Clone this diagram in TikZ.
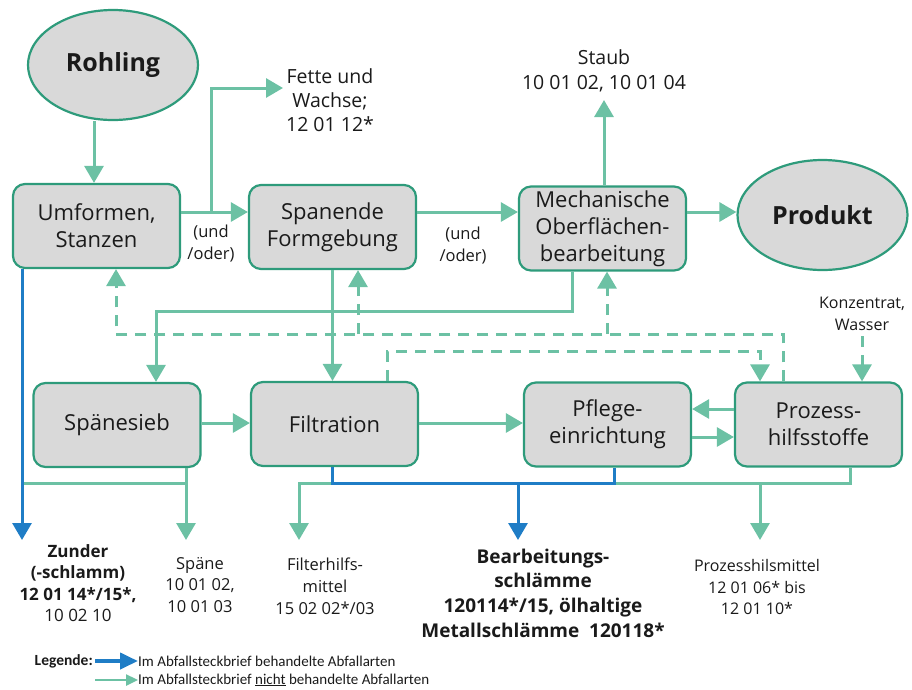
\documentclass[tikz,border=0pt]{standalone}
\usepackage{fontspec}
\setmainfont{Open Sans}
\newfontfamily\legfont{Carlito}
\usetikzlibrary{shapes.geometric,arrows.meta}
\definecolor{gc}{HTML}{6CC1A4}
\definecolor{bc}{HTML}{2E9B7B}
\definecolor{fc}{HTML}{D9D9D9}
\definecolor{blc}{HTML}{1F7DC6}
\definecolor{tc}{HTML}{1A1A1A}
\begin{document}
\begin{tikzpicture}[x=1pt,y=-1pt,
  box/.style={rectangle,rounded corners=12pt,draw=bc,fill=fc,line width=2.2pt,
    minimum width=167pt,minimum height=84pt,align=center,inner sep=0pt,text=tc,
    font=\fontsize{22}{27}\selectfont},
  ell/.style={ellipse,draw=bc,fill=fc,line width=2.2pt,minimum width=170pt,
    minimum height=110pt,inner sep=0pt,text=tc,font=\fontsize{25}{30}\selectfont\bfseries},
  lbl/.style={align=center,inner sep=0pt,text=tc},
  conn/.style={draw=gc,line width=3pt},
  arr/.style={conn,-{Triangle[length=17pt,width=19pt]}},
  darr/.style={arr,dash pattern=on 11pt off 8pt},
  bconn/.style={draw=blc,line width=3pt},
  barr/.style={bconn,-{Triangle[length=17pt,width=19pt]}}]
\useasboundingbox (0,0) rectangle (912,689);

% main nodes
\node[ell] (roh) at (113,65) {Rohling};
\node[ell] (prod) at (822.5,215) {Produkt};
\node[box] (umf) at (96.5,226) {Umformen,\\Stanzen};
\node[box] (span) at (332.5,227) {Spanende\\Formgebung};
\node[box] (mech) at (602.5,228.5) {Mechanische\\Oberflächen-\\bearbeitung};
\node[box] (sieb) at (117,425) {Spänesieb};
\node[box] (filt) at (334.5,424) {Filtration};
\node[box] (pfl) at (607.5,424.5) {Pflege-\\einrichtung};
\node[box] (proz) at (818.5,424.5) {Prozess-\\hilfsstoffe};

% labels
\node[lbl,font=\fontsize{19.5}{24}\selectfont] (fette) at (330,100) {Fette und\\Wachse;\\12 01 12*};
\node[lbl,font=\fontsize{16.5}{22.5}\selectfont] (und1) at (211,243.5) {(und\\/oder)};
\node[lbl,font=\fontsize{16.5}{22.5}\selectfont] (und2) at (463,245.5) {(und\\/oder)};
\node[lbl,font=\fontsize{19.5}{25}\selectfont] (staub) at (604,70.5) {Staub\\10 01 02, 10 01 04};
\node[lbl,font=\fontsize{16}{22}\selectfont] (konz) at (862,314) {Konzentrat,\\Wasser};
\node[lbl,font=\fontsize{17}{21.5}\selectfont] (zun) at (78,583) {\textbf{Zunder}\\\textbf{(-schlamm)}\\\textbf{12 01 14*/15*,}\\10 02 10};
\node[lbl,font=\fontsize{16.5}{21.5}\selectfont] (spa) at (200,585) {Späne\\10 01 02,\\10 01 03};
\node[lbl,font=\fontsize{16.5}{22}\selectfont] (fh) at (325,586) {Filterhilfs-\\mittel\\15 02 02*/03};
\node[lbl,font=\fontsize{19}{24.7}\selectfont\bfseries] (bea) at (543,593) {Bearbeitungs-\\schlämme\\120114*/15, ölhaltige\\Metallschlämme\ \ 120118*};
\node[lbl,font=\fontsize{16}{21.5}\selectfont] (ph) at (757,587) {Prozesshilsmittel\\12 01 06* bis\\12 01 10*};

% coordinates
\coordinate (fj) at (211,212);
\coordinate (fe) at (283,88);
\coordinate (st) at (604,100);
\coordinate (kz) at (862,336);
\coordinate (hd) at (0,334);
\coordinate (hb) at (0,483);
\coordinate (t1) at (22,540);
\coordinate (t2) at (186,540);
\coordinate (t3) at (299,540);
\coordinate (t4) at (518,540);
\coordinate (t5) at (760,540);

% top row flows
\draw[arr] ([xshift=-19pt]roh.south) -- ([xshift=-2.5pt]umf.north);
\draw[arr] ([yshift=14pt]umf.east) -- ([yshift=14pt]umf.east -| span.west);
\draw[arr] (fj) |- (fe);
\draw[arr] ([yshift=15pt]span.east) -- ([yshift=15pt]span.east -| mech.west);
\draw[arr] ([yshift=16.5pt]mech.east) -- ([yshift=16.5pt]mech.east -| prod.west);
\draw[arr] ([xshift=1.5pt]mech.north) -- (st);

% bottom row flows
\draw[arr] ([yshift=2pt]sieb.east) -- ([yshift=2pt]sieb.east -| filt.west);
\draw[arr] ([yshift=1pt]filt.east) -- ([yshift=1pt]filt.east -| pfl.west);
\draw[arr] ([yshift=15.5pt]proz.west) -- ([yshift=15.5pt]proz.west -| pfl.east);
\draw[arr] ([yshift=-12.5pt]pfl.east) -- ([yshift=-12.5pt]pfl.east -| proz.west);
\draw[darr] (kz) -- (kz |- proz.north);

% middle connections
\draw[arr] ([xshift=-30.5pt]mech.south) -- ++(0,40) -| ([xshift=39pt]sieb.north);
\draw[arr] (span.south) -- (span.south |- filt.north);
\draw[darr] ([xshift=-35.5pt]proz.north) -- ([xshift=-35.5pt]proz.north |- hd) -| ([xshift=19.5pt]umf.south);
\draw[darr] ([xshift=25.5pt]span.south |- hd) -- ([xshift=25.5pt]span.south);
\draw[darr] ([xshift=4.5pt]mech.south |- hd) -- ([xshift=4.5pt]mech.south);
\draw[darr] ([xshift=52.5pt]filt.north) -- ++(0,-29) -| ([xshift=-58.5pt]proz.north);

% waste outputs (green)
\draw[conn] (t1 |- hb) -| ([xshift=69pt]sieb.south);
\draw[arr] ([xshift=69pt]sieb.south |- hb) -- (t2);
\draw[arr] ([xshift=-2.5pt]filt.south |- hb) -| (t3);
\draw[conn] ([xshift=6.5pt]pfl.south |- hb) -| ([xshift=31.5pt]proz.south);
\draw[arr] (t5 |- hb) -- (t5);
% waste outputs (blue)
\draw[barr] ([xshift=-74.5pt]umf.south) -- (t1);
\draw[bconn] ([xshift=-2.5pt]filt.south) |- ([xshift=6.5pt]pfl.south |- hb) -- ([xshift=6.5pt]pfl.south);
\draw[barr] (t4 |- hb) -- (t4);

% legend
\node[lbl,anchor=east,font=\legfont\fontsize{15.5}{18}\selectfont\bfseries] (leg) at (93,661) {Legende:};
\node[lbl,anchor=west,font=\legfont\fontsize{15}{18}\selectfont] (lt1) at (138,661) {Im Abfallsteckbrief behandelte Abfallarten};
\node[lbl,anchor=west,font=\legfont\fontsize{15}{18}\selectfont] (lt2) at (138,680) {Im Abfallsteckbrief \underline{nicht} behandelte Abfallarten};
\draw[draw=blc,line width=4pt,-{Triangle[length=18pt,width=16pt]}] ([xshift=2pt]leg.east) -- (lt1.west);
\coordinate (lb) at (95,680);
\draw[draw=gc,line width=2.5pt,-{Triangle[length=12pt,width=11pt]}] (lb) -- (lt2.west);
\end{tikzpicture}
\end{document}
